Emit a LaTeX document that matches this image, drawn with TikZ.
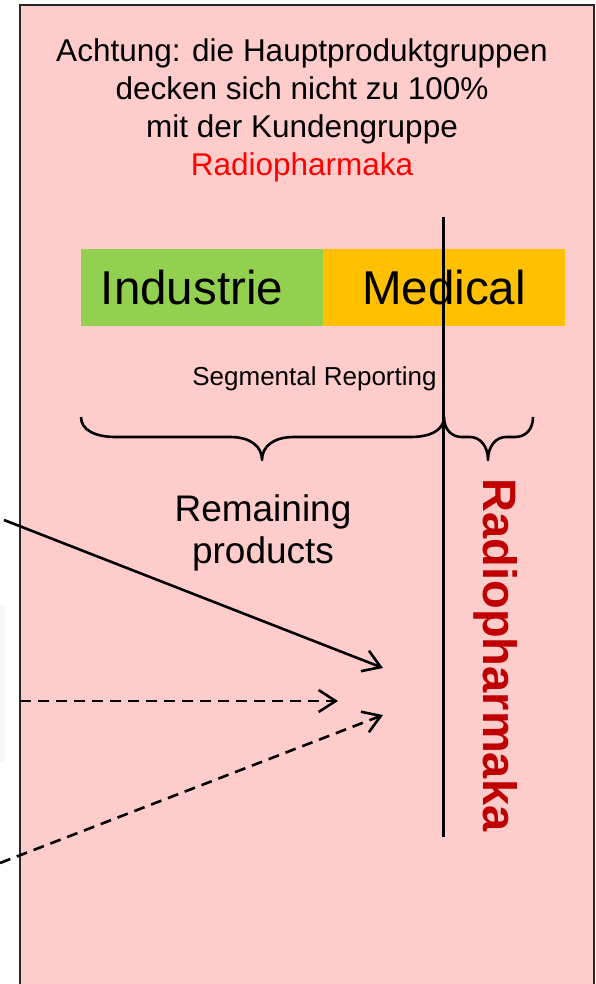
\documentclass[tikz,border=0pt]{standalone}
\usepackage{fontspec}
\setmainfont{Liberation Sans}
\usetikzlibrary{arrows.meta}
\definecolor{panelpink}{HTML}{FFCCCC}
\definecolor{indgreen}{HTML}{92D050}
\definecolor{medorange}{HTML}{FFC000}
\definecolor{radred}{HTML}{C00000}
\definecolor{notered}{HTML}{FF0000}
\begin{document}
\begin{tikzpicture}[x=1pt,y=-1pt,
  txt/.style={inner sep=0pt, anchor=base},
  note/.style={txt, font=\fontsize{31.5}{38}\selectfont},
  segtext/.style={txt, font=\fontsize{47.5}{56}\selectfont},
  segbox/.style={inner sep=0pt, minimum width=242pt, minimum height=77pt, anchor=north west},
  flow/.style={line width=2.6pt, -{Straight Barb[length=17pt,width=22pt]}},
  dashflow/.style={flow, dash pattern=on 11pt off 7pt},
  bracestroke/.style={line width=2.6pt, line join=round}
]
\useasboundingbox (0,0) rectangle (596,984);

% faint edge of a neighbouring box
\fill[black!3] (0,605) rectangle (5,762);

% panel
\draw[line width=2pt, fill=panelpink, draw=black!85] (20,5) rectangle (594,1000);

% note on top
\node[note] (l1) at (302,62) {Achtung: die Hauptproduktgruppen};
\node[note] (l2) at (302,100) {decken sich nicht zu 100\%};
\node[note] (l3) at (302,138) {mit der Kundengruppe};
\node[note, text=notered] (l4) at (302,176) {Radiopharmaka};

% segment boxes
\node[segbox, fill=indgreen] (indbox) at (81,249) {};
\node[segbox, fill=medorange] (medbox) at (323,249) {};
\node[segtext] (ind) at (192,304) {Industrie};
\node[segtext] (med) at (444,304) {Medical};

\node[txt, font=\fontsize{26}{31}\selectfont] (seg) at (314.5,385) {Segmental Reporting};

% dividing line
\coordinate (vtop) at (443.5,217);
\coordinate (vbot) at (443.5,837);
\draw[line width=2.2pt] (vtop) -- (vbot);

% braces
\draw[bracestroke] (81,417) .. controls (81,430) and (95,437) .. (116,437)
  -- (230,437) .. controls (250,437) and (262,446) .. (262,460)
  .. controls (262,446) and (274,437) .. (294,437)
  -- (410,437) .. controls (431,437) and (444,430) .. (444,417);
\draw[bracestroke] (444,417) .. controls (444,430) and (452,437) .. (462,437)
  -- (470,437) .. controls (480,437) and (488,446) .. (488,460)
  .. controls (488,446) and (496,437) .. (506,437)
  -- (515,437) .. controls (525,437) and (533,430) .. (533,417);

% labels under the braces
\node[txt, font=\fontsize{37}{44}\selectfont] (rem1) at (263,521) {Remaining};
\node[txt, font=\fontsize{37}{44}\selectfont] (rem2) at (263,563) {products};
\node[txt, rotate=-90, font=\fontsize{47}{56}\selectfont\bfseries, text=radred] (radio) at (483,655) {Radiopharmaka};

% incoming flows
\coordinate (a1s) at (4,520);
\coordinate (a1t) at (383,668);
\draw[flow] (a1s) -- (a1t);
\coordinate (a2s) at (20,701);
\coordinate (a2t) at (338,701);
\draw[dashflow] (a2s) -- (a2t);
\coordinate (a3s) at (0,863);
\coordinate (a3t) at (383,715);
\draw[dashflow] (a3s) -- (a3t);
\end{tikzpicture}
\end{document}
